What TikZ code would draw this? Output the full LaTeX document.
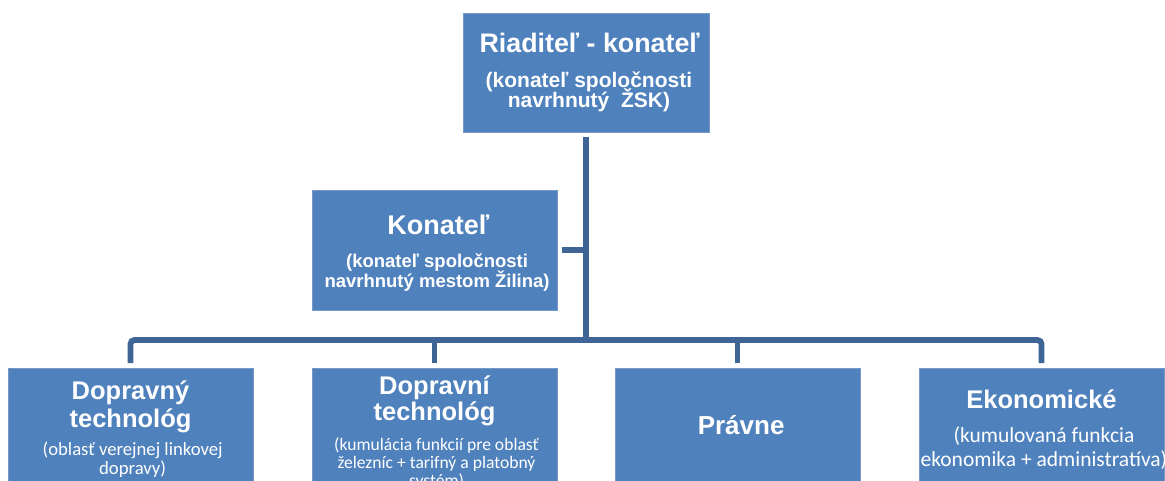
\documentclass[tikz,border=0pt]{standalone}
\usepackage{fontspec}
\setmainfont{Liberation Sans}
\newfontfamily\calibfont{Carlito}
\definecolor{boxfill}{HTML}{4F81BD}
\definecolor{boxedge}{HTML}{7498C8}
\definecolor{linkcol}{HTML}{3E6596}
% text styles used inside the units
\newcommand\unittitle[1][25.5]{\fontsize{#1}{28}\selectfont\bfseries}
\newcommand\boldnote[1]{\fontsize{#1}{20}\selectfont\bfseries}
\newcommand\deptnote[1]{\fontsize{#1}{19}\calibfont\selectfont}
% fixed line pitch inside a caption, whatever the glyph heights
\newcommand\captionpitch[2]{\fontsize{#1}{#2}\selectfont\lineskiplimit=-100pt\lineskip=0pt}
\tikzset{
  unit/.style={draw=boxedge, line width=0.8pt, fill=boxfill,
    minimum width=245pt, minimum height=120pt, inner sep=0pt,
    outer sep=5pt},
  caption/.style={text=white, inner sep=0pt, align=center},
  conn/.style={draw=linkcol, line width=5.8pt},
}
\begin{document}
\begin{tikzpicture}[x=1pt, y=-1pt]
  \useasboundingbox (0,0) rectangle (1165,481);
  \clip (0,0) rectangle (1165,481);

  % boxes
  \node[unit, minimum width=246pt, minimum height=119pt] (dir) at (586,72.5) {};
  \node[unit] (kon) at (434.5,250) {};
  \node[unit] (d1) at (130.5,428) {};
  \node[unit] (d2) at (434.5,428) {};
  \node[unit] (d3) at (737.5,428) {};
  \node[unit] (d4) at (1041.5,428) {};

  % captions
  \node[caption, font=\captionpitch{20}{20}] (dirtext) at (dir.center)
    {{\unittitle[26.8] Riaditeľ - konateľ}\\[15pt]
     {\boldnote{21} (konateľ spoločnosti}\\
     {\boldnote{21} navrhnutý\ \ ŽSK)}};
  \node[caption, font=\captionpitch{19}{19.5}] (kontext)
    at ([yshift=-3pt]kon.center)
    {{\unittitle[27] Konateľ}\\[13.5pt]
     {\boldnote{18.5} (konateľ spoločnosti}\\
     {\boldnote{18.5} navrhnutý mestom Žilina)}};
  \node[caption, font=\captionpitch{18}{18.5}] (d1text)
    at ([yshift=-1pt]d1.center)
    {{\unittitle Dopravný}\\[9.5pt]
     {\unittitle technológ}\\[10pt]
     {\deptnote{18.7} (oblasť verejnej linkovej}\\
     {\deptnote{18.7} dopravy)}};
  \node[caption, font=\captionpitch{18}{18}] (d2text)
    at ([yshift=-5pt]d2.center)
    {{\unittitle Dopravní}\\[8pt]
     {\unittitle technológ}\\[12pt]
     {\deptnote{17.6} (kumulácia funkcií pre oblasť}\\
     {\deptnote{17.6} železníc + tarifný a platobný}\\
     {\deptnote{17.6} systém)}};
  \node[caption] (d3text) at ([yshift=3pt]d3.center) {\unittitle[26] Právne};
  \node[caption, font=\captionpitch{21}{24}] (d4text)
    at ([yshift=-2pt]d4.center)
    {{\unittitle Ekonomické}\\[10pt]
     {\deptnote{21.5} (kumulovaná funkcia}\\
     {\deptnote{21.5} ekonomika + administratíva)}};

  % connectors
  \coordinate (bus) at (586,340);
  \draw[conn] (dir.south) -- (bus);
  \draw[conn] (kon.east) -- (kon.east -| bus);
  \draw[conn, rounded corners=4pt] (d1.north) |- (bus) -| (d4.north);
  \draw[conn] (d2.north) -- (d2.north |- bus);
  \draw[conn] (d3.north) -- (d3.north |- bus);
\end{tikzpicture}
\end{document}
